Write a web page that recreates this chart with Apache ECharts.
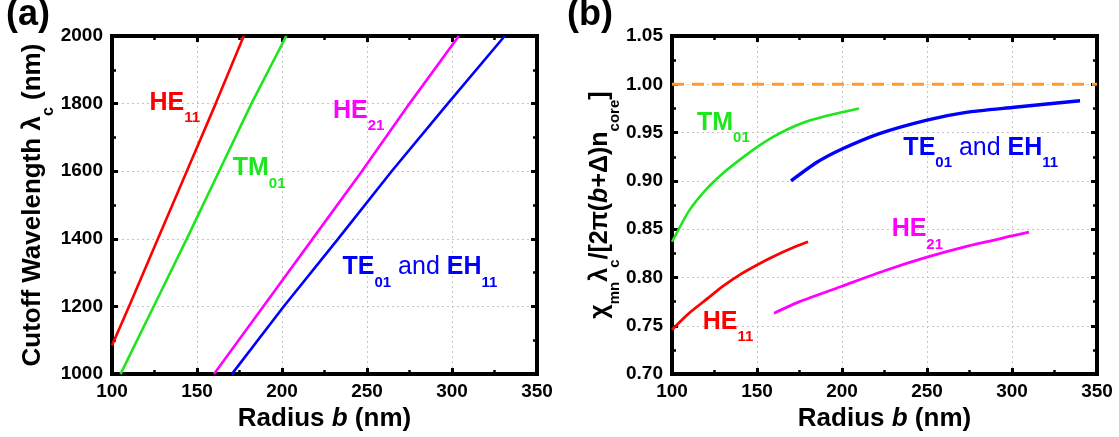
<!DOCTYPE html>
<html lang="en">
<head>
  <meta charset="UTF-8">
  <title>Cutoff wavelength vs radius</title>
  <style>
    html, body { margin: 0; padding: 0; background-color: #fff; }
  </style>
  <script src="https://cdn.jsdelivr.net/npm/echarts@6/dist/echarts.min.js"></script>
</head>
<body>
<div id="chart" style="width: 1119px; height: 437px;"></div>
<script>
  // panel (a): cutoff wavelength (nm) against radius b (nm)
  const cutoffLevels = [1000, 1200, 1400, 1600, 1800, 2000]
  const aHE11x = [100, 110, 127, 144, 161, 177.5]
  const aHE11y = [1085, 1200, 1400, 1600, 1800, 2000]
  const aTM01x = [105, 124.5, 144, 163, 182, 202.5]
  const aHE21x = [160, 189, 218, 247, 275, 304]
  const aTE01x = [170.5, 201, 233, 264.5, 297.5, 331]

  // panel (b): normalised cutoff against radius b (nm)
  const bHE11x = [100, 110, 120, 130, 140, 150, 160, 170, 180]
  const bHE11y = [0.746, 0.763, 0.777, 0.791, 0.803, 0.813, 0.822, 0.830, 0.837]
  const bTM01x = [100, 110, 120, 130, 140, 150, 160, 170, 180, 190, 200, 210]
  const bTM01y = [0.837, 0.869, 0.891, 0.908, 0.922, 0.935, 0.946, 0.955, 0.962, 0.967, 0.971, 0.975]
  const bHE21x = [160, 175, 200, 225, 250, 275, 300, 310]
  const bHE21y = [0.763, 0.775, 0.791, 0.807, 0.821, 0.833, 0.843, 0.847]
  const bTE01x = [170, 185, 200, 222, 250, 273, 300, 340]
  const bTE01y = [0.900, 0.919, 0.933, 0.949, 0.963, 0.971, 0.976, 0.983]
  const unityX = [100, 350]
  const unityY = [1, 1]

  // tick settings
  const radiusTicks = {min: 100, max: 350, interval: 50}
  const cutoffTicks = {min: 1000, max: 2000, interval: 200}
  const ratioTicks = {min: 0.70, max: 1.05, interval: 0.05}

  const FONT = 'Liberation Sans'
  const RED = '#ff0000', GREEN = '#1ee61e', MAGENTA = '#ff00ff', BLUE = '#0000ff', ORANGE = '#ff9a2e'

  const zip = (xs, ys) => xs.map((x, i) => [x, ys[i]])

  function frameLine() {
    return {show: true, onZero: false, lineStyle: {color: '#000', width: 4, cap: 'square'}}
  }
  function ticks() {
    return {show: true, inside: true, length: 6, lineStyle: {color: '#000', width: 3}}
  }
  function minor() {
    return {show: true, splitNumber: 2, length: 4, lineStyle: {color: '#000', width: 2.5}}
  }
  const gridDash = {show: true, lineStyle: {color: '#c4c4c4', width: 1, type: [2, 3]}}
  const tickFont = {color: '#000', fontFamily: FONT, fontWeight: 'bold', fontSize: 19}

  // main text on top, subscript pushed down to the bottom of a taller line
  function titleRich(main, sub, line) {
    return {
      m: {fontFamily: FONT, fontWeight: 'bold', fontSize: main, lineHeight: main, verticalAlign: 'top', color: '#000'},
      i: {fontFamily: FONT, fontWeight: 'bold', fontStyle: 'italic', fontSize: main, lineHeight: main, verticalAlign: 'top', color: '#000'},
      s: {fontFamily: FONT, fontWeight: 'bold', fontSize: sub, lineHeight: line, verticalAlign: 'bottom', color: '#000'}
    }
  }

  function bottomAxis(grid) {
    return Object.assign({
      type: 'value', gridIndex: grid, position: 'bottom',
      name: '{m|Radius }{i|b}{m| (nm)}', nameLocation: 'middle', nameGap: 29,
      nameTextStyle: {rich: titleRich(26, 16, 26)},
      axisLine: frameLine(), axisTick: ticks(), minorTick: minor(),
      axisLabel: Object.assign({margin: 8}, tickFont),
      splitLine: gridDash
    }, radiusTicks)
  }
  function topAxis(grid) {
    return Object.assign({
      type: 'value', gridIndex: grid, position: 'top',
      axisLine: frameLine(), axisTick: ticks(), minorTick: minor(),
      axisLabel: {show: false}, splitLine: {show: false}
    }, radiusTicks)
  }

  const dom = document.getElementById('chart')
  const chart = echarts.init(dom, null, {renderer: 'canvas'})

  const option = {
    backgroundColor: '#fff',
    animation: false,
    grid: [
      {left: 112, top: 36, width: 425, height: 341},
      {left: 672, top: 36, width: 425, height: 341}
    ],
    xAxis: [bottomAxis(0), topAxis(0), bottomAxis(1), topAxis(1)],
    yAxis: [
      Object.assign({
        type: 'value', gridIndex: 0, position: 'left',
        name: '{m|Cutoff Wavelength λ}{s|c}{m| (nm)}', nameLocation: 'middle', nameGap: 54,
        nameTextStyle: {rich: titleRich(26, 16, 37)},
        axisLine: frameLine(), axisTick: ticks(), minorTick: minor(),
        axisLabel: Object.assign({margin: 9, formatter: v => String(v)}, tickFont),
        splitLine: gridDash
      }, cutoffTicks),
      Object.assign({
        type: 'value', gridIndex: 0, position: 'right',
        axisLine: frameLine(), axisTick: ticks(), minorTick: minor(),
        axisLabel: {show: false}, splitLine: {show: false}
      }, cutoffTicks),
      Object.assign({
        type: 'value', gridIndex: 1, position: 'left',
        name: '{m|χ}{s|mn}{m|λ}{s|c}{m|/[2π(}{i|b}{m|+Δ)n}{s|core}{m|]}', nameLocation: 'middle', nameGap: 48,
        nameTextStyle: {rich: titleRich(25, 15, 35)},
        axisLine: frameLine(), axisTick: ticks(), minorTick: minor(),
        axisLabel: Object.assign({margin: 9, formatter: v => v.toFixed(2)}, tickFont),
        splitLine: gridDash
      }, ratioTicks),
      Object.assign({
        type: 'value', gridIndex: 1, position: 'right',
        axisLine: frameLine(), axisTick: ticks(), minorTick: minor(),
        axisLabel: {show: false}, splitLine: {show: false}
      }, ratioTicks)
    ],
    series: [
      {name: 'a HE11', data: zip(aHE11x, aHE11y), color: RED, xAxisIndex: 0, yAxisIndex: 0},
      {name: 'a TM01', data: zip(aTM01x, cutoffLevels), color: GREEN, xAxisIndex: 0, yAxisIndex: 0},
      {name: 'a HE21', data: zip(aHE21x, cutoffLevels), color: MAGENTA, xAxisIndex: 0, yAxisIndex: 0},
      {name: 'a TE01', data: zip(aTE01x, cutoffLevels), color: BLUE, xAxisIndex: 0, yAxisIndex: 0},
      {name: 'b unity', data: zip(unityX, unityY), color: ORANGE, xAxisIndex: 2, yAxisIndex: 2, dash: [12, 8], width: 3},
      {name: 'b HE11', data: zip(bHE11x, bHE11y), color: RED, xAxisIndex: 2, yAxisIndex: 2, smooth: 0.2, width: 2.8},
      {name: 'b TM01', data: zip(bTM01x, bTM01y), color: GREEN, xAxisIndex: 2, yAxisIndex: 2, smooth: 0.2, width: 2.6},
      {name: 'b HE21', data: zip(bHE21x, bHE21y), color: MAGENTA, xAxisIndex: 2, yAxisIndex: 2, smooth: 0.2, width: 2.8},
      {name: 'b TE01', data: zip(bTE01x, bTE01y), color: BLUE, xAxisIndex: 2, yAxisIndex: 2, smooth: 0.2, width: 3.4}
    ].map(s => ({
      type: 'line', name: s.name, data: s.data,
      xAxisIndex: s.xAxisIndex, yAxisIndex: s.yAxisIndex,
      showSymbol: false, symbol: 'none', smooth: s.smooth || false,
      lineStyle: {color: s.color, width: s.width || 2.6, type: s.dash || 'solid'},
      z: 1
    }))
  }
  chart.setOption(option)

  // mode labels, anchored (top-left) at data coordinates
  const notes = [
    {panel: 0, x: 122, y: 1839, color: RED, text: '{m|HE}{s|11}'},
    {panel: 0, x: 171, y: 1645, color: GREEN, text: '{m|TM}{s|01}'},
    {panel: 0, x: 230, y: 1815, color: MAGENTA, text: '{m|HE}{s|21}'},
    {panel: 0, x: 235.6, y: 1352, color: BLUE, text: '{m|TE}{s|01}{r| and }{m|EH}{s|11}'},
    {panel: 1, x: 114.7, y: 0.973, color: GREEN, text: '{m|TM}{s|01}'},
    {panel: 1, x: 236.1, y: 0.9474, color: BLUE, text: '{m|TE}{s|01}{r| and }{m|EH}{s|11}'},
    {panel: 1, x: 229.2, y: 0.8626, color: MAGENTA, text: '{m|HE}{s|21}'},
    {panel: 1, x: 118.1, y: 0.7667, color: RED, text: '{m|HE}{s|11}'}
  ]

  const graphics = notes.map(n => {
    const p = chart.convertToPixel({xAxisIndex: n.panel * 2, yAxisIndex: n.panel * 2}, [n.x, n.y])
    return {
      type: 'text', x: p[0], y: p[1], z: 10,
      style: {
        text: n.text, align: 'left', verticalAlign: 'top', fill: n.color,
        rich: {
          m: {fontFamily: FONT, fontWeight: 'bold', fontSize: 25, lineHeight: 25, verticalAlign: 'top', fill: n.color},
          r: {fontFamily: FONT, fontWeight: 'normal', fontSize: 25, lineHeight: 25, verticalAlign: 'top', fill: n.color},
          s: {fontFamily: FONT, fontWeight: 'bold', fontSize: 15, lineHeight: 35, verticalAlign: 'bottom', fill: n.color}
        }
      }
    }
  })
  graphics.push(
    {type: 'text', x: 6, y: -3, style: {text: '(a)', fill: '#000', fontFamily: FONT, fontWeight: 'bold', fontSize: 36, align: 'left', verticalAlign: 'top'}},
    {type: 'text', x: 567, y: -3, style: {text: '(b)', fill: '#000', fontFamily: FONT, fontWeight: 'bold', fontSize: 36, align: 'left', verticalAlign: 'top'}}
  )
  chart.setOption({graphic: graphics})
</script>
</body>
</html>
